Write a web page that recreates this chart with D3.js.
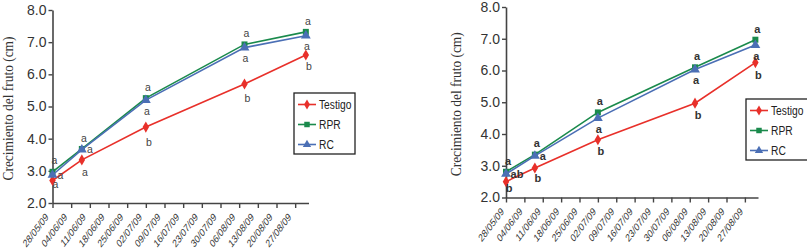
<!DOCTYPE html>
<html><head><meta charset="utf-8">
<script src="https://cdn.jsdelivr.net/npm/d3@7"></script>
<style>body{margin:0;background:#fff}svg{display:block}</style>
</head><body><svg id="c" width="807" height="251"></svg>
<script>
// ---- data ----
const sampleDates = ["2009-05-28","2009-06-08","2009-07-02","2009-08-08","2009-08-31"];
const tickLabels = ["28/05/09","04/06/09","11/06/09","18/06/09","25/06/09","02/07/09","09/07/09","16/07/09","23/07/09","30/07/09","06/08/09","13/08/09","20/08/09","27/08/09"];
const yTicks = [2.0,3.0,4.0,5.0,6.0,7.0,8.0];
const seriesNames = ["Testigo","RPR","RC"];
// panel 1
const testigo1 = [2.70,3.34,4.36,5.70,6.60];
const rpr1     = [2.97,3.68,5.26,6.93,7.32];
const rc1      = [2.87,3.66,5.20,6.83,7.20];
const lettersTop1 = ["a","a","a","a","a"];
const lettersMid1 = ["a","a","a","a","a"];
const lettersBot1 = ["a","a","b","b","b"];
// panel 2
const testigo2 = [2.50,2.93,3.82,4.97,6.25];
const rpr2     = [2.81,3.35,4.68,6.10,6.97];
const rc2      = [2.74,3.31,4.50,6.03,6.80];
const lettersTop2 = ["a","a","a","a","a"];
const lettersMid2 = ["ab","a","a","a","a"];
const lettersBot2 = ["b","b","b","b","b"];

// ---- layout / style ----
const colors = {Testigo:"#e8302a", RPR:"#1a8a4c", RC:"#4b6fb5"};
const symbols = {Testigo:d3.symbolDiamond, RPR:d3.symbolSquare, RC:d3.symbolTriangle};
const parse = d3.timeParse("%Y-%m-%d");
const parseTick = d3.timeParse("%d/%m/%y");
const SANS = "Liberation Sans, Arial, sans-serif";
const panels = [
  {x0:52.5, x1:308.5, y0:203, y1:10, titleX:13, series:[testigo1,rpr1,rc1],
   letters:[lettersTop1,lettersMid1,lettersBot1], bold:false, legend:{x:294,y:93,w:61,h:61},
   midRight:[true,true,false,false,false], botOff:[4,12,15,14,11], tl:{dx:-6,dy:12}},
  {x0:506, x1:758, y0:197.5, y1:7, titleX:461, series:[testigo2,rpr2,rc2],
   letters:[lettersTop2,lettersMid2,lettersBot2], bold:true, legend:{x:746,y:99,w:62,h:61},
   midRight:[true,true,false,false,false], botOff:[7,10,11,12,13], tl:{dx:-4,dy:12}}
];
const svg = d3.select("#c");
const dates = sampleDates.map(parse);
const domain = [parse("2009-05-28"), parse("2009-09-01")];

panels.forEach(p => {
  const x = d3.scaleTime().domain(domain).range([p.x0, p.x1]);
  const y = d3.scaleLinear().domain([2,8]).range([p.y0, p.y1]);
  const g = svg.append("g");

  // y axis
  const ya = g.append("g").attr("transform",`translate(${p.x0},0)`)
    .call(d3.axisLeft(y).tickValues(yTicks).tickFormat(d3.format(".1f")).tickSize(4).tickPadding(2).tickSizeOuter(0));
  ya.select(".domain").attr("stroke","#444").attr("stroke-width",1.6);
  ya.selectAll(".tick line").attr("stroke","#444").attr("stroke-width",1.4);
  ya.selectAll(".tick text").attr("font-family",SANS).attr("font-size",14).attr("fill","#333");

  // x axis
  const tickDates = tickLabels.map(parseTick);
  const xa = g.append("g").attr("transform",`translate(0,${p.y0})`)
    .call(d3.axisBottom(x).tickValues(tickDates).tickFormat((d,i)=>tickLabels[i]).tickSize(5).tickSizeOuter(0));
  xa.select(".domain").attr("stroke","#444").attr("stroke-width",1.6);
  xa.selectAll(".tick line").attr("stroke","#444").attr("stroke-width",1.4);
  xa.selectAll(".tick text").attr("font-family",SANS).attr("font-size",11).attr("fill","#333")
    .attr("text-anchor","end").attr("x",0).attr("y",0).attr("dy","0.35em")
    .attr("transform",`translate(${p.tl.dx},${p.tl.dy}) scale(0.75,1) rotate(-45)`);

  // title
  g.append("text").attr("transform",`translate(${p.titleX},${(p.y0+p.y1)/2+2}) rotate(-90)`)
    .attr("text-anchor","middle").attr("font-family","Liberation Serif, Times New Roman, serif")
    .attr("font-size",15).attr("fill","#333")
    .attr("textLength",144).attr("lengthAdjust","spacingAndGlyphs").text("Crecimiento del fruto (cm)");

  // lines & markers
  p.series.forEach((vals,si) => {
    const name = seriesNames[si];
    const line = d3.line().x((d,i)=>x(dates[i])).y(d=>y(d));
    g.append("path").datum(vals).attr("d",line).attr("fill","none").attr("stroke",colors[name]).attr("stroke-width",1.6);
    g.selectAll(null).data(vals).enter().append("path")
      .attr("transform",(d,i)=>`translate(${x(dates[i])},${y(d)})`)
      .attr("d",d3.symbol().type(symbols[name]).size(name==="RC"?42:36)).attr("fill",colors[name]);
  });

  // letters
  const [top,mid,bot] = p.letters;
  const [tS,rS,cS] = p.series;
  const lf = {size:p.bold?11:10.5, weight:p.bold?"bold":"normal", fill:p.bold?"#333":"#444"};
  const addL = (tx,ty,t)=>g.append("text").attr("x",tx).attr("y",ty).attr("dy","0.35em").attr("text-anchor","middle")
    .attr("font-family",SANS).attr("font-size",lf.size).attr("font-weight",lf.weight).attr("fill",lf.fill).text(t);
  dates.forEach((d,i)=>{
    const px = x(d);
    addL(px+2, y(Math.max(rS[i],cS[i]))-11, top[i]);
    if (p.midRight[i]) addL(px+8+(mid[i].length>1?3:0), y(cS[i]), mid[i]);
    else addL(px+1, y(cS[i])+11, mid[i]);
    addL(px+3, y(tS[i])+p.botOff[i], bot[i]);
  });

  // legend
  const L = p.legend;
  const lg = g.append("g").attr("transform",`translate(${L.x},${L.y})`);
  lg.append("rect").attr("width",L.w).attr("height",L.h).attr("fill","#fff").attr("stroke","#222").attr("stroke-width",1.3);
  seriesNames.forEach((n,i)=>{
    const ly = 11.5 + i*20;
    lg.append("line").attr("x1",4).attr("x2",22).attr("y1",ly).attr("y2",ly).attr("stroke",colors[n]).attr("stroke-width",1.6);
    lg.append("path").attr("transform",`translate(13,${ly})`).attr("d",d3.symbol().type(symbols[n]).size(30)).attr("fill",colors[n]);
    lg.append("text").attr("transform",`translate(25,${ly}) scale(0.76,1)`).attr("dy","0.35em").attr("font-family",SANS)
      .attr("font-size",13.5).attr("fill","#222").text(n);
  });
});
</script></body></html>
